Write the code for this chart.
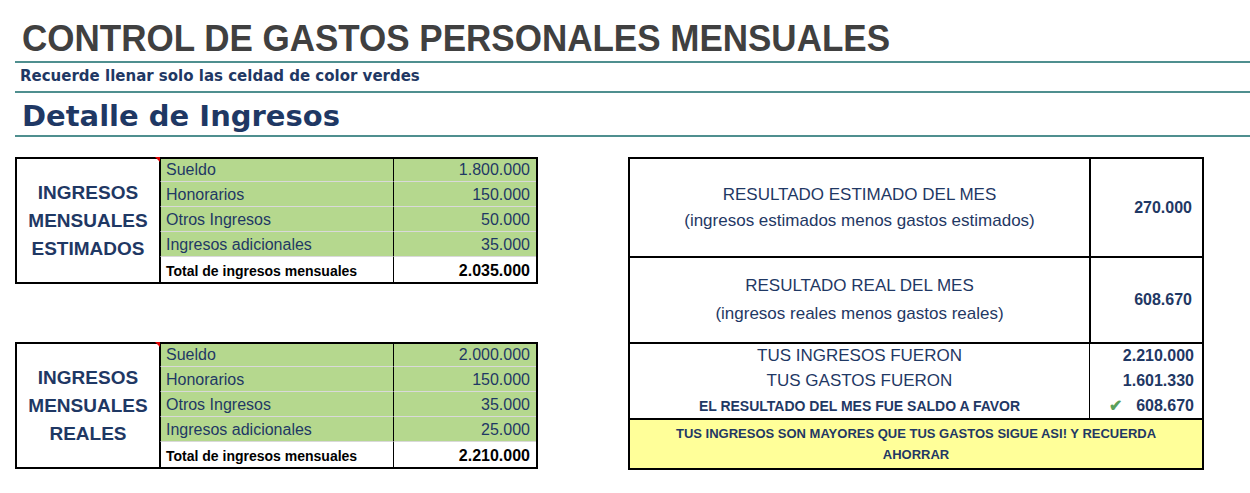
<!DOCTYPE html>
<html><head><meta charset="utf-8">
<script src="https://cdn.jsdelivr.net/npm/chart.js@4.4.1/dist/chart.umd.min.js"></script>
<style>
body{margin:0;width:1250px;height:493px;background:#fff;font-family:"DejaVu Sans",sans-serif;position:relative;overflow:hidden}
.a{position:absolute;box-sizing:border-box}
.hl{position:absolute;left:15px;width:1235px;height:2px;background:#4f8f8f}
.cell{position:absolute;box-sizing:border-box;display:flex;align-items:center}
</style></head><body>
<div class="a" style="left:22px;top:16px;font-size:35px;font-weight:bold;color:#404040;font-family:'Liberation Sans',sans-serif;transform:scaleY(1.08);transform-origin:left top">CONTROL DE GASTOS PERSONALES MENSUALES</div>
<div class="hl" style="top:61px"></div>
<div class="a" style="left:20px;top:67px;font-size:15px;font-weight:bold;color:#1f3864">Recuerde llenar solo las celdad de color verdes</div>
<div class="hl" style="top:91px"></div>
<div class="a" style="left:22px;top:99px;font-size:29px;font-weight:bold;color:#1f3864">Detalle de Ingresos</div>
<div class="hl" style="top:135px"></div>
<div id="root"></div>
<script>
const categories=["Sueldo","Honorarios","Otros Ingresos","Ingresos adicionales"];
const estimados=[1800000,150000,50000,35000];
const reales=[2000000,150000,35000,25000];
const resumenLabels=["TUS INGRESOS FUERON","TUS GASTOS FUERON","EL RESULTADO DEL MES FUE SALDO A FAVOR"];
const resumenValues=[2210000,1601330,608670];
const resultadoEstimado=270000;
const resultadoReal=608670;
const fmt=v=>v.toLocaleString('de-DE');
const root=document.getElementById('root');
function c(x,y,w,h,html,st){const d=document.createElement('div');d.className='cell';d.style.cssText=`left:${x}px;top:${y}px;width:${w}px;height:${h}px;`+(st||'');d.innerHTML=html;root.appendChild(d);return d;}
const navy='#1f3864';
function table(y,title,vals){
 c(15,y,146,127,title,`border:2px solid #000;justify-content:center;text-align:center;font-weight:bold;font-size:19px;color:${navy};line-height:28px;font-family:"Liberation Sans",sans-serif`);
 vals.forEach((v,i)=>{
  c(160,y+i*25,234,25,categories[i],`background:#b5d88e;border-bottom:1px solid #d9d9d9;border-left:1px solid #000;padding-left:5px;padding-top:2px;font-size:16px;color:${navy};font-family:"Liberation Sans",sans-serif`);
  c(393,y+i*25,145,25,fmt(v),`background:#b5d88e;border-bottom:1px solid #d9d9d9;border-left:1px solid #000;justify-content:flex-end;padding-right:8px;padding-top:2px;font-size:16px;color:${navy};font-family:"Liberation Sans",sans-serif`);
 });
 c(160,y+100,234,27,'Total de ingresos mensuales',`border-left:1px solid #000;padding-left:5px;font-size:14px;font-weight:bold;color:#000;font-family:"Liberation Sans",sans-serif`);
 c(393,y+100,145,27,fmt(vals.reduce((a,b)=>a+b,0)),`border-left:1px solid #000;justify-content:flex-end;padding-right:8px;font-size:16px;font-weight:bold;color:#000;font-family:"Liberation Sans",sans-serif`);
 c(15,y,523,127,'','border:2px solid #000;pointer-events:none');
 c(155,y,5,5,'','background:#e00000;clip-path:polygon(0 0,100% 0,100% 100%)');
}
table(157,'INGRESOS<br>MENSUALES<br>ESTIMADOS',estimados);
table(342,'INGRESOS<br>MENSUALES<br>REALES',reales);
const ff='font-family:"Liberation Sans",sans-serif;';
c(628,157,463,101,'RESULTADO ESTIMADO DEL MES<br>(ingresos estimados menos gastos estimados)',`border:2px solid #000;justify-content:center;text-align:center;font-size:17px;line-height:26px;color:${navy};`+ff);
c(1089,157,115,101,fmt(resultadoEstimado),`border:2px solid #000;border-left:1px solid #000;justify-content:flex-end;padding-right:10px;font-size:16px;font-weight:bold;color:${navy};`+ff);
c(628,256,463,88,'RESULTADO REAL DEL MES<br>(ingresos reales menos gastos reales)',`border:2px solid #000;justify-content:center;text-align:center;font-size:17px;line-height:28px;color:${navy};`+ff);
c(1089,256,115,88,fmt(resultadoReal),`border:2px solid #000;justify-content:flex-end;padding-right:10px;font-size:16px;font-weight:bold;color:${navy};`+ff);
resumenLabels.forEach((l,i)=>{
 c(628,343+i*25,463,25,l,`justify-content:center;font-size:${i==2?14:17}px;${i==2?'font-weight:bold;':''}color:${navy};`+ff);
 c(1089,343+i*25,115,25,(i==2?'<span style="color:#5aa05a;margin-right:14px">✔</span>':'')+fmt(resumenValues[i]),`justify-content:flex-end;padding-right:10px;font-size:16px;font-weight:bold;color:${navy};`+ff);
});
c(628,342,576,77,'','border:2px solid #000;border-bottom:none');
c(1089,342,1,77,'','background:#000');
c(628,418,576,52,'TUS INGRESOS SON MAYORES QUE TUS GASTOS SIGUE ASI! Y RECUERDA<br>AHORRAR',`background:#ffff99;border:2px solid #000;justify-content:center;text-align:center;font-size:13px;font-weight:bold;line-height:21px;color:${navy};`+ff);
</script>
</body></html>
